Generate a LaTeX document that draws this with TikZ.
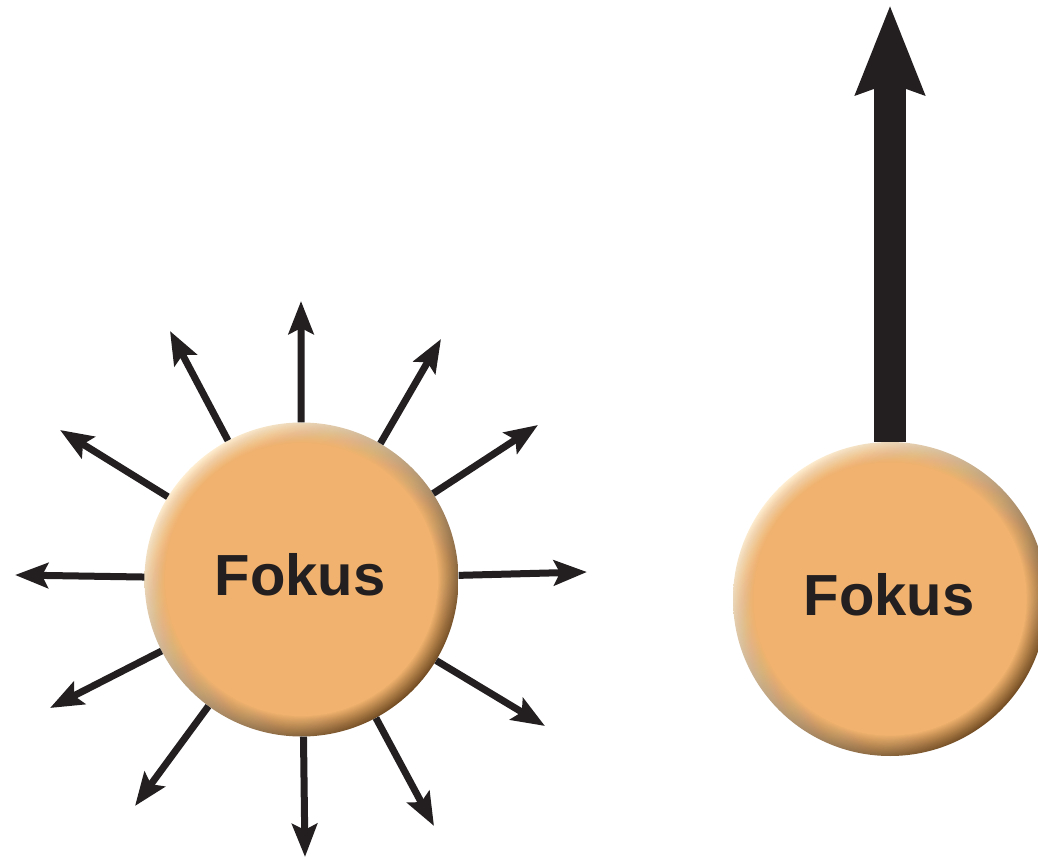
\documentclass[tikz,border=0pt]{standalone}
\usepackage{fontspec}
\newfontfamily\fokusfamily{Liberation Sans}
\usetikzlibrary{arrows.meta}

\definecolor{inkdark}{RGB}{35,31,32}
\definecolor{orangebase}{RGB}{240,178,110}
\definecolor{orangelight}{RGB}{255,238,210}
\definecolor{orangedark}{RGB}{115,76,34}

\tikzset{
  fokus/.style={
    circle, minimum size=314pt, inner sep=0pt,
    text=inkdark,
    font=\fokusfamily\bfseries\fontsize{58}{60}\selectfont,
    path picture={
      % bevel: light from the upper left, shade to the lower right
      \shade[top color=orangelight, middle color=orangebase, bottom color=orangedark,
             shading angle=45]
        (path picture bounding box.south west) rectangle (path picture bounding box.north east);
      % flat face: layers whose opacities add up to a linear ramp
      \foreach \k in {1,...,24}{
        \pgfmathsetmacro{\op}{1/(25-\k)}
        \fill[orangebase, fill opacity=\op]
          (path picture bounding box.center) circle ({157pt-\k*0.85pt});
      }
    }
  },
  ray/.style={draw=inkdark, line width=7pt,
    -{Stealth[length=33pt, width=25pt, inset=6pt]}},
  bigray/.style={draw=inkdark, line width=32pt,
    -{Stealth[length=88pt, width=66pt, inset=10pt]}},
}

\begin{document}
\begin{tikzpicture}[x=1pt, y=1pt]
  \useasboundingbox (0,0) rectangle (1038,860);

  % spreading focus
  \node[fokus] (L) at (301.5,280.5) {};
  \node[text=inkdark, font=\fokusfamily\bfseries\fontsize{58}{60}\selectfont]
    (Ltext) at (300,285) {Fokus};

  \coordinate (t1)  at (301,559);
  \coordinate (t2)  at (170,529);
  \coordinate (t3)  at (441,521);
  \coordinate (t4)  at (538,435);
  \coordinate (t5)  at (587,288);
  \coordinate (t6)  at (545,134);
  \coordinate (t7)  at (434,34);
  \coordinate (t8)  at (305,3);
  \coordinate (t9)  at (135,54);
  \coordinate (t10) at (50,152);
  \coordinate (t11) at (15,285);
  \coordinate (t12) at (60,430);

  \foreach \t in {t1,t2,t3,t4,t5,t6,t7,t8,t9,t10,t11,t12}{
    \draw[ray] (L) -- (\t);
  }

  % single direction
  \node[fokus] (R) at (890,261) {};
  \node[text=inkdark, font=\fokusfamily\bfseries\fontsize{58}{60}\selectfont]
    (Rtext) at (889,265) {Fokus};
  \coordinate (tR) at (890,855);
  \draw[bigray] (R) -- (tR);
\end{tikzpicture}
\end{document}
